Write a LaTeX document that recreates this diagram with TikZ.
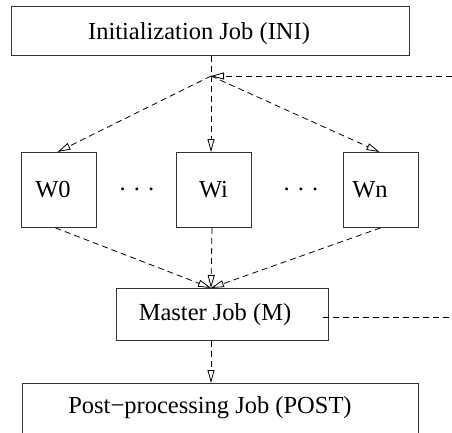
\documentclass[tikz,border=0pt]{standalone}
\usepackage{fontspec}
\setmainfont{Liberation Serif}
\usetikzlibrary{arrows.meta,calc}
\begin{document}
\begin{tikzpicture}[x=1pt,y=-1pt,
  box/.style={draw=black!80, line width=0.9pt, rectangle, inner sep=0pt, anchor=north west},
  lbl/.style={inner sep=0pt, anchor=base, font=\fontsize{24.5}{28}\selectfont},
  conn/.style={draw, line width=0.8pt, dash pattern=on 6pt off 4pt},
  arr/.style={conn, -{Triangle[open, length=13pt, width=7pt]}}]
\useasboundingbox (0,0) rectangle (452,433);
% boxes
\node[box, minimum width=398pt, minimum height=49pt] (INI) at (11,6) {};
\node[lbl] (INIt) at (199,40) {Initialization Job (INI)};
\node[box, minimum width=75pt, minimum height=75pt] (W0) at (20.5,152) {};
\node[box, minimum width=75pt, minimum height=75pt] (Wi) at (176,152) {};
\node[box, minimum width=75pt, minimum height=75pt] (Wn) at (342.5,152) {};
\node[lbl] (W0t) at (53,197) {W0};
\node[lbl] (Wit) at (213.5,197) {Wi};
\node[lbl] (Wnt) at (370,197) {Wn};
\node[lbl] (d1) at (137,197) {· · ·};
\node[lbl] (d2) at (301,197) {· · ·};
\node[box, minimum width=212pt, minimum height=52pt] (M) at (116,288) {};
\node[lbl] (Mt) at (215,320) {Master Job (M)};
\node[box, minimum width=396pt, minimum height=80pt] (POST) at (22,383) {};
\node[lbl] (POSTt) at (210,413) {Post−processing Job (POST)};
% coordinates
\coordinate (J) at (211,76);
\coordinate (R1) at (452,76);
\coordinate (R2) at (452,317);
\coordinate (Mr) at (323,317);
\coordinate (Min) at (211,288);
% connectors
\draw[conn] (INI.south -| J) -- (J);
\draw[arr] (R1) -- (J);
\draw[arr] (J) -- ($(W0.north west)+(37,0)$);
\draw[arr] (J) -- (J |- Wi.north);
\draw[arr] (J) -- ($(Wn.north west)+(37,0)$);
\draw[arr] ($(W0.south west)+(35,0)$) -- (Min);
\draw[arr] ($(Wi.south west)+(36,0)$) -- (Min);
\draw[arr] ($(Wn.south west)+(38,0)$) -- (Min);
\draw[conn] (Mr) -- (R2);
\draw[arr] (M.south -| J) -- (POST.north -| J);
\end{tikzpicture}
\end{document}
